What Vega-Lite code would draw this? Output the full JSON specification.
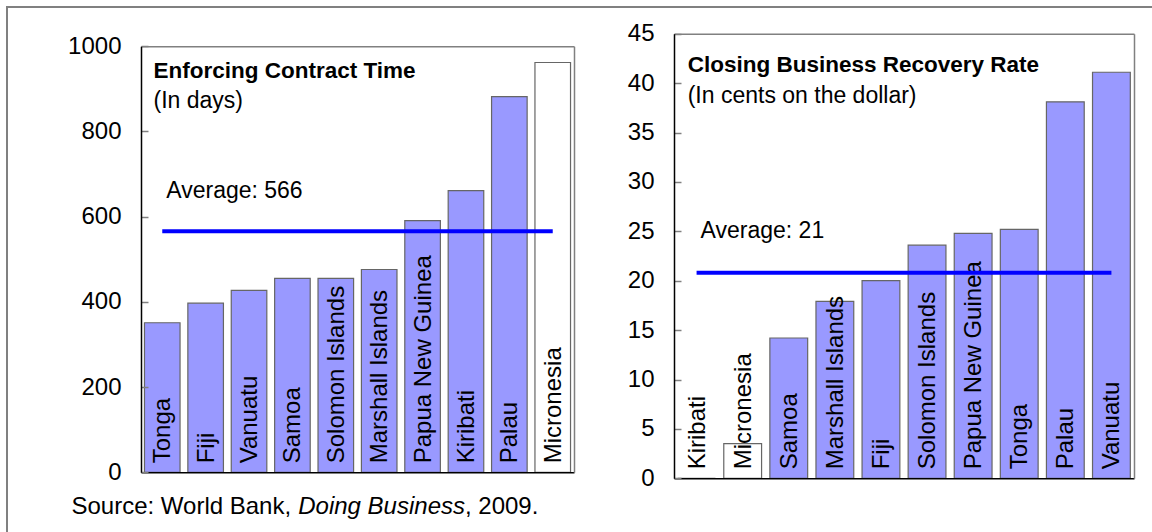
{
  "$schema": "https://vega.github.io/schema/vega-lite/v6.json",
  "width": 1150,
  "height": 530,
  "autosize": {"type": "none"},
  "padding": {"left": 7, "top": 7, "right": 0, "bottom": 0},
  "background": "white",
  "config": {
    "view": {"stroke": "#808080", "strokeWidth": 2},
    "font": "Liberation Sans",
    "text": {"font": "Liberation Sans", "color": "black"},
    "axis": {"grid": false, "title": null, "labelFont": "Liberation Sans"}
  },
  "datasets": {
    "enforce": [
      {"country": "Tonga", "days": 351},
      {"country": "Fiji", "days": 397},
      {"country": "Vanuatu", "days": 427},
      {"country": "Samoa", "days": 455},
      {"country": "Solomon Islands", "days": 455},
      {"country": "Marshall Islands", "days": 476},
      {"country": "Papua New Guinea", "days": 591},
      {"country": "Kiribati", "days": 661},
      {"country": "Palau", "days": 882},
      {"country": "Micronesia", "days": 962}
    ],
    "enforceNote": [
      {"from": "Tonga", "to": "Micronesia", "avg": 566, "title": "Enforcing Contract Time", "unit": "(In days)", "avgLabel": "Average: 566"}
    ],
    "recovery": [
      {"country": "Kiribati", "rate": 0},
      {"country": "Micronesia", "rate": 3.5},
      {"country": "Samoa", "rate": 14.2},
      {"country": "Marshall Islands", "rate": 17.9},
      {"country": "Fiji", "rate": 20.0},
      {"country": "Solomon Islands", "rate": 23.6},
      {"country": "Papua New Guinea", "rate": 24.8},
      {"country": "Tonga", "rate": 25.2},
      {"country": "Palau", "rate": 38.1},
      {"country": "Vanuatu", "rate": 41.1}
    ],
    "recoveryNote": [
      {"from": "Kiribati", "to": "Vanuatu", "avg": 20.8, "title": "Closing Business Recovery Rate", "unit": "(In cents on the dollar)", "avgLabel": "Average: 21"}
    ]
  },
  "layer": [
    {
      "layer": [
        {
          "data": {"name": "enforce"},
          "mark": {"type": "bar", "stroke": "#666666", "strokeWidth": 1.2},
          "encoding": {
            "x": {
              "field": "country", "type": "nominal", "sort": null,
              "scale": {"type": "band", "domain": ["Tonga", "Fiji", "Vanuatu", "Samoa", "Solomon Islands", "Marshall Islands", "Papua New Guinea", "Kiribati", "Palau", "Micronesia"], "range": [134, 567], "paddingInner": 0.18, "paddingOuter": 0.08},
              "axis": {"orient": "bottom", "offset": -64.7, "labels": false, "ticks": false, "domainColor": "black", "domainWidth": 1.5, "zindex": 1}
            },
            "y": {
              "field": "days", "type": "quantitative",
              "scale": {"domain": [0, 1000], "range": [465.3, 39.3], "nice": false, "zero": true},
              "axis": {"orient": "left", "offset": -134, "values": [0, 200, 400, 600, 800, 1000], "format": "d", "tickSize": -7, "tickColor": "#808080", "tickWidth": 1.5, "labelPadding": 27, "labelFontSize": 24, "labelColor": "black", "labelFlush": false, "labelOverlap": false, "domainColor": "black", "domainWidth": 1.5, "zindex": 1}
            },
            "fill": {"condition": {"test": "datum.country === 'Micronesia'", "value": "white"}, "value": "#9999FF"}
          }
        },
        {
          "data": {"name": "enforce"},
          "mark": {"type": "text", "angle": 270, "align": "left", "baseline": "middle", "dx": 9, "dy": 1, "fontSize": 24, "color": "black"},
          "encoding": {
            "x": {"field": "country", "type": "nominal", "axis": null},
            "y": {"datum": 0, "type": "quantitative", "axis": null},
            "text": {"field": "country"}
          }
        },
        {
          "data": {"name": "enforceNote"},
          "mark": {"type": "rule", "color": "#0000FF", "strokeWidth": 4},
          "encoding": {
            "x": {"field": "from", "type": "nominal", "bandPosition": 0.5, "axis": {"orient": "top", "offset": -39.3, "labels": false, "ticks": false, "domainColor": "#808080", "domainWidth": 1.5, "zindex": 1}},
            "x2": {"field": "to", "bandPosition": 0.5},
            "y": {"field": "avg", "type": "quantitative", "axis": {"orient": "right", "offset": -583, "labels": false, "ticks": false, "domainColor": "#808080", "domainWidth": 1.5, "zindex": 1}}
          }
        },
        {
          "data": {"name": "enforceNote"},
          "mark": {"type": "text", "align": "left", "baseline": "alphabetic", "fontSize": 22.5, "fontWeight": "bold", "dx": 9, "dy": 32},
          "encoding": {
            "x": {"field": "from", "type": "nominal", "bandPosition": 0, "axis": null},
            "y": {"datum": 1000, "type": "quantitative", "axis": null},
            "text": {"field": "title"}
          }
        },
        {
          "data": {"name": "enforceNote"},
          "mark": {"type": "text", "align": "left", "baseline": "alphabetic", "fontSize": 23, "dx": 9, "dy": 62},
          "encoding": {
            "x": {"field": "from", "type": "nominal", "bandPosition": 0, "axis": null},
            "y": {"datum": 1000, "type": "quantitative", "axis": null},
            "text": {"field": "unit"}
          }
        },
        {
          "data": {"name": "enforceNote"},
          "mark": {"type": "text", "align": "left", "baseline": "alphabetic", "fontSize": 23, "dx": 4, "dy": -33},
          "encoding": {
            "x": {"field": "from", "type": "nominal", "bandPosition": 0.5, "axis": null},
            "y": {"field": "avg", "type": "quantitative", "axis": null},
            "text": {"field": "avgLabel"}
          }
        },
        {
          "data": {"name": "enforceNote"},
          "mark": {"type": "text", "align": "left", "baseline": "alphabetic", "fontSize": 24, "dx": -73, "dy": 42, "text": "Source: World Bank,"},
          "encoding": {
            "x": {"field": "from", "type": "nominal", "bandPosition": 0, "axis": null},
            "y": {"datum": 0, "type": "quantitative", "axis": null}
          }
        },
        {
          "data": {"name": "enforceNote"},
          "mark": {"type": "text", "align": "left", "baseline": "alphabetic", "fontSize": 24, "fontStyle": "italic", "dx": 153.75, "dy": 42, "text": "Doing Business"},
          "encoding": {
            "x": {"field": "from", "type": "nominal", "bandPosition": 0, "axis": null},
            "y": {"datum": 0, "type": "quantitative", "axis": null}
          }
        },
        {
          "data": {"name": "enforceNote"},
          "mark": {"type": "text", "align": "left", "baseline": "alphabetic", "fontSize": 24, "dx": 320.5, "dy": 42, "text": ", 2009."},
          "encoding": {
            "x": {"field": "from", "type": "nominal", "bandPosition": 0, "axis": null},
            "y": {"datum": 0, "type": "quantitative", "axis": null}
          }
        }
      ],
      "resolve": {"axis": {"x": "independent", "y": "independent"}}
    },
    {
      "layer": [
        {
          "data": {"name": "recovery"},
          "mark": {"type": "bar", "stroke": "#666666", "strokeWidth": 1.2},
          "encoding": {
            "x": {
              "field": "country", "type": "nominal", "sort": null,
              "scale": {"type": "band", "domain": ["Kiribati", "Micronesia", "Samoa", "Marshall Islands", "Fiji", "Solomon Islands", "Papua New Guinea", "Tonga", "Palau", "Vanuatu"], "range": [667, 1127], "paddingInner": 0.18, "paddingOuter": 0.08},
              "axis": {"orient": "bottom", "offset": -58.7, "labels": false, "ticks": false, "domainColor": "black", "domainWidth": 1.5, "zindex": 1}
            },
            "y": {
              "field": "rate", "type": "quantitative",
              "scale": {"domain": [0, 45], "range": [471.3, 26.7], "nice": false, "zero": true},
              "axis": {"orient": "left", "offset": -667, "values": [0, 5, 10, 15, 20, 25, 30, 35, 40, 45], "format": "d", "tickSize": -7, "tickColor": "#808080", "tickWidth": 1.5, "labelPadding": 27, "labelFontSize": 24, "labelColor": "black", "labelFlush": false, "labelOverlap": false, "domainColor": "black", "domainWidth": 1.5, "zindex": 1}
            },
            "fill": {"condition": {"test": "datum.country === 'Micronesia'", "value": "white"}, "value": "#9999FF"}
          }
        },
        {
          "data": {"name": "recovery"},
          "mark": {"type": "text", "angle": 270, "align": "left", "baseline": "middle", "dx": 9, "dy": 1, "fontSize": 24, "color": "black"},
          "encoding": {
            "x": {"field": "country", "type": "nominal", "axis": null},
            "y": {"datum": 0, "type": "quantitative", "axis": null},
            "text": {"field": "country"}
          }
        },
        {
          "data": {"name": "recoveryNote"},
          "mark": {"type": "rule", "color": "#0000FF", "strokeWidth": 4},
          "encoding": {
            "x": {"field": "from", "type": "nominal", "bandPosition": 0.5, "axis": {"orient": "top", "offset": -26.7, "labels": false, "ticks": false, "domainColor": "#808080", "domainWidth": 1.5, "zindex": 1}},
            "x2": {"field": "to", "bandPosition": 0.5},
            "y": {"field": "avg", "type": "quantitative", "axis": {"orient": "right", "offset": -23, "labels": false, "ticks": false, "domainColor": "#808080", "domainWidth": 1.5, "zindex": 1}}
          }
        },
        {
          "data": {"name": "recoveryNote"},
          "mark": {"type": "text", "align": "left", "baseline": "alphabetic", "fontSize": 22.5, "fontWeight": "bold", "dx": 10, "dy": 38.3},
          "encoding": {
            "x": {"field": "from", "type": "nominal", "bandPosition": 0, "axis": null},
            "y": {"datum": 45, "type": "quantitative", "axis": null},
            "text": {"field": "title"}
          }
        },
        {
          "data": {"name": "recoveryNote"},
          "mark": {"type": "text", "align": "left", "baseline": "alphabetic", "fontSize": 23, "dx": 10, "dy": 69.5},
          "encoding": {
            "x": {"field": "from", "type": "nominal", "bandPosition": 0, "axis": null},
            "y": {"datum": 45, "type": "quantitative", "axis": null},
            "text": {"field": "unit"}
          }
        },
        {
          "data": {"name": "recoveryNote"},
          "mark": {"type": "text", "align": "left", "baseline": "alphabetic", "fontSize": 23, "dx": 4, "dy": -34.5},
          "encoding": {
            "x": {"field": "from", "type": "nominal", "bandPosition": 0.5, "axis": null},
            "y": {"field": "avg", "type": "quantitative", "axis": null},
            "text": {"field": "avgLabel"}
          }
        }
      ],
      "resolve": {"axis": {"x": "independent", "y": "independent"}}
    }
  ],
  "resolve": {
    "scale": {"x": "independent", "y": "independent"},
    "axis": {"x": "independent", "y": "independent"}
  }
}
